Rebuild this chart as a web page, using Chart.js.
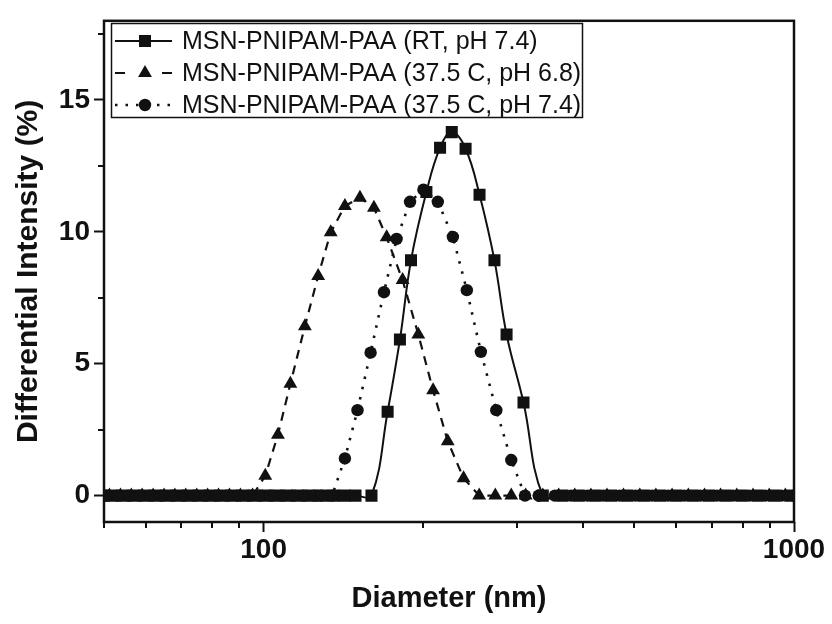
<!DOCTYPE html>
<html>
<head>
<meta charset="utf-8">
<script src="https://cdn.jsdelivr.net/npm/chart.js@4.4.1/dist/chart.umd.min.js"></script>
<style>
  html, body { margin: 0; padding: 0; background: #fff; }
  #wrap { width: 832px; height: 624px; }
</style>
</head>
<body>
<div id="wrap"><canvas id="dls" width="832" height="624"></canvas></div>
<script>
// DLS size distributions (diameter in nm, intensity in %)

// MSN-PNIPAM-PAA (RT, pH 7.4)
const rtBaseLeft = [50, 52.4, 55.0, 57.6, 60.4, 63.3, 66.4, 69.6, 73.0, 76.6, 80.3, 84.2, 88.3, 92.6,
                    97.1, 101.8, 106.8, 112.0, 117.5, 123.2, 129.2, 135.5, 142.1, 149.0];
const rtX = [159.7, 171.3, 180.7, 189.6, 202.7, 215.1, 226.3, 240.3, 255.3, 272.4, 287.1, 309];
const rtY = [0, 3.18, 5.92, 8.92, 11.51, 13.19, 13.78, 13.15, 11.41, 8.92, 6.11, 3.53];
const rtBaseRight = [336, 366, 393, 422, 452, 485, 521, 559, 600, 644, 691, 742, 796, 854, 917, 984];

// MSN-PNIPAM-PAA (37.5 C, pH 6.8)
const ph68BaseLeft = [51.2, 53.7, 56.3, 59.0, 61.9, 64.9, 68.0, 71.3, 74.8, 78.4, 82.2, 86.2, 90.4, 95.3];
const ph68X = [100.7, 106.4, 112.3, 119.6, 126.7, 133.8, 142.3, 151.9, 161.4, 170.6, 182.8, 195.7,
               208.7, 222.4, 238.2, 254.9, 273.4, 293, 312];
const ph68Y = [0.75, 2.31, 4.24, 6.42, 8.33, 9.98, 10.98, 11.29, 10.91, 9.79, 8.17, 6.11,
               3.99, 2.06, 0.66, 0, 0, 0, 0];
const ph68BaseRight = [336, 360, 386, 414, 444, 477, 512, 549, 589, 632, 678, 727, 780, 837, 898, 963];

// MSN-PNIPAM-PAA (37.5 C, pH 7.4)
const ph74BaseLeft = [50.6, 53.0, 55.6, 58.3, 61.1, 64.1, 67.2, 70.5, 73.9, 77.5, 81.2, 85.2, 89.3, 93.6,
                      98.2, 103.0, 108.0, 113.3, 118.8, 124.6, 128.4];
const ph74X = [134.6, 142.3, 150.3, 159.1, 168.6, 178.1, 188.8, 200.1, 213, 227.4, 241.6, 256.8, 274.6, 293, 311];
const ph74Y = [0, 1.41, 3.24, 5.42, 7.71, 9.73, 11.14, 11.6, 11.14, 9.81, 7.79, 5.45, 3.24, 1.35, 0];
const ph74BaseRight = [330, 354, 380, 408, 437, 469, 503, 540, 579, 621, 666, 715, 767, 823, 883, 947, 1000];

const seriesNames = [
  "MSN-PNIPAM-PAA (RT, pH 7.4)",
  "MSN-PNIPAM-PAA (37.5 C, pH 6.8)",
  "MSN-PNIPAM-PAA (37.5 C, pH 7.4)",
];

// axis ticks
const xMajor = [100, 1000];
const xMinor = [50, 60, 70, 80, 90, 200, 300, 400, 500, 600, 700, 800, 900];
const yMajor = [0, 5, 10, 15];
const yMinor = [2.5, 7.5, 12.5, 17.5];

const FONT = "'Liberation Sans', Arial, Helvetica, sans-serif";
const INK = "#111";

// baseline bins, then the peak, then baseline again
function series(left, xs, ys, right) {
  return [
    ...left.map(x => ({ x, y: 0 })),
    ...xs.map((x, i) => ({ x, y: ys[i] })),
    ...right.map(x => ({ x, y: 0 })),
  ];
}

function marker(ctx, style, r, x, y) {
  ctx.beginPath();
  if (style === "rect") {
    const s = Math.SQRT1_2 * r;
    ctx.rect(x - s, y - s, 2 * s, 2 * s);
  } else if (style === "triangle") {
    ctx.moveTo(x, y - r);
    ctx.lineTo(x + r * 0.866, y + r / 2);
    ctx.lineTo(x - r * 0.866, y + r / 2);
    ctx.closePath();
  } else {
    ctx.arc(x, y, r, 0, Math.PI * 2);
  }
  ctx.fill();
}

// frame, short minor ticks and the boxed legend
const decor = {
  id: "decor",
  afterDraw(chart) {
    const { ctx, chartArea: a, scales } = chart;
    ctx.save();
    ctx.strokeStyle = INK;
    ctx.lineWidth = 2.5;
    ctx.strokeRect(a.left, a.top, a.right - a.left, a.bottom - a.top);

    ctx.lineWidth = 2;
    ctx.beginPath();
    xMinor.forEach(v => {
      const px = Math.round(scales.x.getPixelForValue(v));
      ctx.moveTo(px, a.bottom); ctx.lineTo(px, a.bottom + 6);
    });
    yMinor.forEach(v => {
      const py = Math.round(scales.y.getPixelForValue(v));
      ctx.moveTo(a.left, py); ctx.lineTo(a.left - 6, py);
    });
    ctx.stroke();

    // legend
    ctx.fillStyle = "#fff";
    ctx.fillRect(111, 23, 471, 94);
    ctx.lineWidth = 1.5;
    ctx.strokeRect(111.5, 23.5, 471, 94);
    chart.data.datasets.forEach((ds, i) => {
      const y = 41 + i * 32;
      ctx.beginPath();
      ctx.setLineDash(ds.legendDash || ds.borderDash || []);
      ctx.lineCap = "butt";
      ctx.lineWidth = ds.borderWidth;
      ctx.moveTo(115, y); ctx.lineTo(172, y);
      ctx.stroke();
      ctx.setLineDash([]);
      ctx.fillStyle = INK;
      marker(ctx, ds.pointStyle, ds.pointRadius, 145, y);
      ctx.font = "25px " + FONT;
      ctx.textBaseline = "middle";
      ctx.fillText(ds.label, 182, y + 1);
    });
    ctx.restore();
  }
};

new Chart(document.getElementById("dls"), {
  type: "line",
  data: {
    datasets: [
      {
        label: seriesNames[0],
        data: series(rtBaseLeft, rtX, rtY, rtBaseRight),
        borderColor: INK, backgroundColor: INK,
        borderWidth: 2,
        tension: 0.4,
        pointStyle: "rect", pointRadius: 8.5, pointBorderWidth: 0,
        order: 3,
      },
      {
        label: seriesNames[1],
        data: series(ph68BaseLeft, ph68X, ph68Y, ph68BaseRight),
        borderColor: INK, backgroundColor: INK,
        borderWidth: 2.2,
        borderDash: [9, 7],
        legendDash: [10, 37],
        tension: 0,
        pointStyle: "triangle", pointRadius: 8, pointBorderWidth: 0,
        order: 2,
      },
      {
        label: seriesNames[2],
        data: series(ph74BaseLeft, ph74X, ph74Y, ph74BaseRight),
        borderColor: INK, backgroundColor: INK,
        borderWidth: 2.6,
        borderDash: [2.5, 8],
        tension: 0,
        pointStyle: "circle", pointRadius: 6.2, pointBorderWidth: 0,
        order: 1,
      },
    ],
  },
  options: {
    responsive: false,
    animation: false,
    parsing: false,
    layout: { padding: { top: 15, right: 38, left: 0, bottom: 0 } },
    plugins: { legend: { display: false }, tooltip: { enabled: false } },
    scales: {
      x: {
        type: "logarithmic",
        min: 50, max: 1000,
        afterBuildTicks: s => { s.ticks = [...xMinor, ...xMajor].sort((a, b) => a - b).map(v => ({ value: v })); },
        afterFit: s => { s.height = 102; },
        grid: {
          drawOnChartArea: false, tickLength: 10, tickWidth: 2,
          tickColor: c => (c.tick && xMajor.includes(c.tick.value)) ? INK : "rgba(0,0,0,0)",
        },
        border: { display: false },
        ticks: {
          autoSkip: false, maxRotation: 0, padding: 1, color: INK,
          font: { family: FONT, size: 28, weight: "bold" },
          callback: v => xMajor.includes(v) ? String(v) : "",
        },
        title: {
          display: true, text: "Diameter (nm)", color: INK,
          font: { family: FONT, size: 29, weight: "bold", lineHeight: 1 },
          padding: { top: 0, bottom: 11 },
        },
      },
      y: {
        min: -1, max: 18,
        afterBuildTicks: s => { s.ticks = [...yMajor, ...yMinor].sort((a, b) => a - b).map(v => ({ value: v })); },
        afterFit: s => { s.width = 104; },
        grid: {
          drawOnChartArea: false, tickLength: 10, tickWidth: 2,
          tickColor: c => (c.tick && yMajor.includes(c.tick.value)) ? INK : "rgba(0,0,0,0)",
        },
        border: { display: false },
        ticks: {
          autoSkip: false, padding: 4, color: INK,
          font: { family: FONT, size: 28, weight: "bold" },
          callback: v => yMajor.includes(v) ? String(v) : "",
        },
        title: {
          display: true, text: "Differential Intensity (%)", color: INK,
          font: { family: FONT, size: 30, weight: "bold", lineHeight: 1 },
          padding: { top: 14, bottom: 0 },
        },
      },
    },
  },
  plugins: [decor],
});
</script>
</body>
</html>
